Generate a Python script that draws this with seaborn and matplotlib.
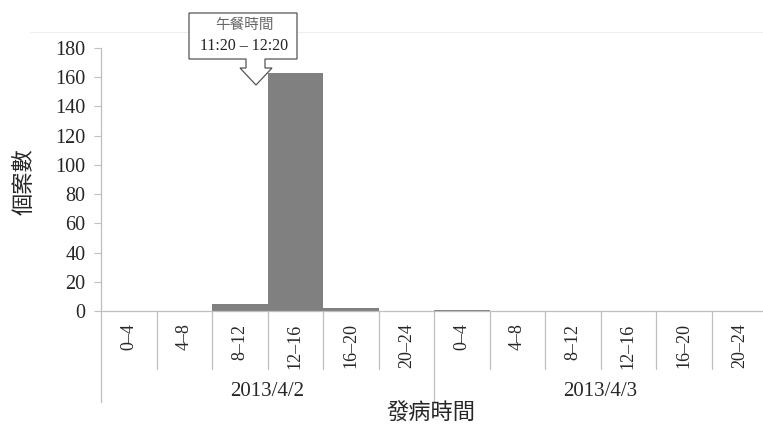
import matplotlib
matplotlib.use("Agg")
import matplotlib.pyplot as plt
import matplotlib.transforms as mtransforms
from matplotlib.patches import Polygon
from matplotlib.lines import Line2D
import seaborn as sns
import pandas as pd

# ---- data ----
dates = ["2013/4/2", "2013/4/3"]
slots = ["0–4", "4–8", "8–12", "12–16", "16–20", "20–24"]
cases_day1 = [0, 0, 5, 163, 2, 0]
cases_day2 = [1, 0, 0, 0, 0, 0]
yticks = [0, 20, 40, 60, 80, 100, 120, 140, 160, 180]

keys, labels, vals = [], [], []
for d, series in zip(dates, [cases_day1, cases_day2]):
    for s, v in zip(slots, series):
        keys.append(f"{d} {s}")
        labels.append(s)
        vals.append(v)
df = pd.DataFrame({"key": keys, "cases": vals})

sns.set_theme(style="white")
SERIF = ["Liberation Serif", "DejaVu Serif"]
CJK = ["Noto Sans CJK TC", "DejaVu Sans"]
plt.rcParams["font.family"] = SERIF

W, H = 763, 425
fig = plt.figure(figsize=(W / 100, H / 100), dpi=100)
ax_left, ax_right, ax_top, ax_bot = 101, 767, 48, 311
ax = fig.add_axes([ax_left / W, (H - ax_bot) / H, (ax_right - ax_left) / W, (ax_bot - ax_top) / H])

sns.barplot(data=df, x="key", y="cases", order=keys, color="#808080",
            width=1.0, saturation=1, edgecolor="none", ax=ax)

ax.set_xlim(-0.5, len(keys) - 0.5)
ax.set_ylim(0, 180)
ax.set_yticks(yticks)
ax.set_yticklabels([str(t) for t in yticks], fontsize=14.5, family=SERIF)
ax.tick_params(axis="y", left=True, length=5, width=0.8, color="#bfbfbf", pad=6)
ax.set_xticks(range(len(keys)))
ax.set_xticklabels(labels, rotation=90, fontsize=13, family=SERIF)
ax.tick_params(axis="x", length=0, pad=9)
ax.set_xlabel("")
ax.set_ylabel("")

for sp in ["top", "right"]:
    ax.spines[sp].set_visible(False)
ax.spines["bottom"].set_color("#bfbfbf")
ax.spines["left"].set_color("#bfbfbf")
ax.spines["bottom"].set_linewidth(0.9)
ax.spines["left"].set_linewidth(0.9)

# multi-level category separators
trans = mtransforms.blended_transform_factory(ax.transData, ax.transAxes)
ah = ax_bot - ax_top
short = -(369 - ax_bot) / ah
long_ = -(402 - ax_bot) / ah
n = len(keys)
for i in range(n + 1):
    x = i - 0.5
    y1 = long_ if i % len(slots) == 0 else short
    ax.add_line(Line2D([x, x], [0, y1], transform=trans, color="#bfbfbf",
                       lw=0.9, clip_on=False))

date_y = -(392 - ax_bot) / ah
for j, d in enumerate(dates):
    cx = j * len(slots) + (len(slots) - 1) / 2
    ax.text(cx, date_y, d, transform=trans, ha="center", va="center",
            fontsize=15, family=SERIF)

fig.text(431 / W, (H - 413) / H, "發病時間", ha="center", va="center",
         fontsize=16, family=CJK)
fig.text(24 / W, (H - 182) / H, "個案數", ha="center", va="center",
         rotation=90, fontsize=16, family=CJK)

# faint top border line
fig.add_artist(Line2D([30 / W, 1.0], [(H - 32) / H] * 2, color="#eeeeee", lw=0.8))

# callout box with downward arrow (figure pixel coords)
pts = [(189, 13), (297, 13), (297, 59), (265, 59), (265, 68), (272, 68),
       (256, 85), (240, 68), (246, 68), (246, 59), (189, 59)]
poly = Polygon([(x / W, (H - y) / H) for x, y in pts], closed=True,
               transform=fig.transFigure, facecolor="white",
               edgecolor="#555555", lw=0.9, zorder=10)
fig.add_artist(poly)
fig.text(244 / W, (H - 25) / H, "午餐時間", ha="center", va="center",
         fontsize=10.5, color="#666666", family=CJK, zorder=11)
fig.text(244 / W, (H - 46) / H, "11:20 – 12:20", ha="center", va="center",
         fontsize=11.5, color="#222222", family=SERIF, zorder=11)

fig.savefig("out.png", dpi=100)
